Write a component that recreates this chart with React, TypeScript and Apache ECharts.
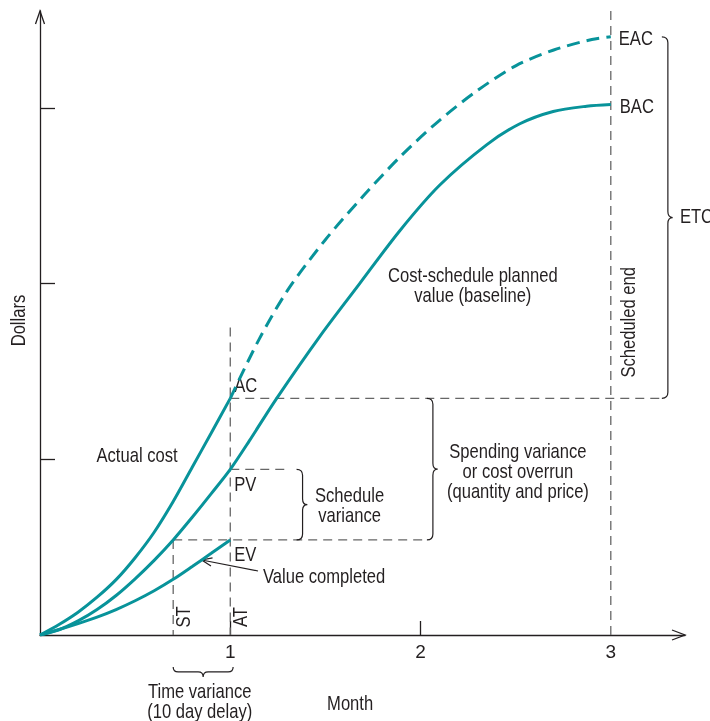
import React, { useEffect, useRef } from "react";
import * as echarts from "echarts";

// ---- data (months on x, dollars on y; y ticks at 1, 2, 3) ----
const plannedMonths = [0, 0.1, 0.2, 0.3, 0.4, 0.5, 0.6, 0.7, 0.8, 0.9, 1, 1.1, 1.244, 1.471, 1.68, 1.89, 2.1, 2.347, 2.522, 2.697, 2.873, 3];
const plannedValues = [0, 0.03, 0.08, 0.145, 0.225, 0.32, 0.425, 0.541, 0.67, 0.805, 0.943, 1.105, 1.347, 1.7, 2.0, 2.3, 2.56, 2.79, 2.91, 2.98, 3.01, 3.02];

const actualMonths = [0, 0.1, 0.2, 0.3, 0.4, 0.5, 0.6, 0.7, 0.8, 0.9, 1];
const actualValues = [0, 0.06, 0.13, 0.215, 0.315, 0.44, 0.585, 0.76, 0.955, 1.15, 1.347];

const forecastMonths = [1, 1.15, 1.3, 1.5, 1.7, 1.9, 2.1, 2.3, 2.5, 2.7, 2.9, 3];
const forecastValues = [1.347, 1.68, 1.96, 2.25, 2.5, 2.73, 2.93, 3.1, 3.24, 3.33, 3.39, 3.405];

const earnedMonths = [0, 0.1, 0.2, 0.3, 0.4, 0.5, 0.6, 0.7, 0.8, 0.9, 1];
const earnedValues = [0, 0.031, 0.065, 0.102, 0.145, 0.195, 0.252, 0.317, 0.39, 0.465, 0.541];

const xTickLabels = [1, 2, 3];
const xTicks = [1, 2];
const yTicks = [1, 2, 3];

// key points
const AT = 1;
const ST = 0.7;
const AC = 1.347;
const PV = 0.943;
const EV = 0.541;
const BAC = 3.02;
const EAC = 3.405;
const END = 3;
const X_MAX = 3.39;
const Y_MAX = 3.552;

const FONT = '"Liberation Sans", Arial, sans-serif';
const TEAL = "#08939a";
const GREY = "#666666";
const INK = "#231f20";
const FS = 20;
const NARROW = 0.83;

export default function App() {
  const ref = useRef<HTMLDivElement>(null);

  useEffect(() => {
    const el = ref.current!;
    const chart = echarts.init(el, null, { renderer: "svg" });
    const zip = (xs: number[], ys: number[]) => xs.map((x, i) => [x, ys[i]]);

    const scheduleBraceX = 1.38;
    const spendingBraceX = 2.065;
    const etcBraceX = 3.3;
    const timeBraceY = -0.21;

    const refLines: number[][][] = [
      [[ST, EV], [ST, 0]],
      [[AT, 1.75], [AT, 0]],
      [[END, Y_MAX], [END, 0]],
      [[AT, AC], [etcBraceX - 0.03, AC]],
      [[AT, PV], [1.3, PV]],
      [[ST, EV], [spendingBraceX - 0.03, EV]],
    ];

    const refSeries = refLines.map((d) => ({
      type: "line",
      data: d,
      symbol: "none",
      silent: true,
      z: 1,
      lineStyle: { color: GREY, width: 1.3, type: [9, 6] },
    }));

    const vBrace = (params: any, api: any) => {
      const x = api.value(0);
      const top = api.coord([x, api.value(1)]);
      const bot = api.coord([x, api.value(2)]);
      const r = 6;
      const xc = top[0];
      const a = top[1];
      const b = bot[1];
      const m = (a + b) / 2;
      const d = `M${xc - r},${a} Q${xc},${a} ${xc},${a + r} L${xc},${m - r} Q${xc},${m} ${xc + r * 0.8},${m} Q${xc},${m} ${xc},${m + r} L${xc},${b - r} Q${xc},${b} ${xc - r},${b}`;
      return { type: "path", shape: { pathData: d }, style: { fill: "none", stroke: INK, lineWidth: 1.2 } };
    };
    const hBrace = (params: any, api: any) => {
      const y = api.value(2);
      const L = api.coord([api.value(0), y]);
      const R = api.coord([api.value(1), y]);
      const r = 5;
      const yy = L[1];
      const l = L[0];
      const rr = R[0];
      const mx = (l + rr) / 2;
      const d = `M${l},${yy - r} Q${l},${yy} ${l + r},${yy} L${mx - r},${yy} Q${mx},${yy} ${mx},${yy + r} Q${mx},${yy} ${mx + r},${yy} L${rr - r},${yy} Q${rr},${yy} ${rr},${yy - r}`;
      return { type: "path", shape: { pathData: d }, style: { fill: "none", stroke: INK, lineWidth: 1.2 } };
    };

    const curve = (name: string, d: number[][], dashed = false) => ({
      type: "line",
      name,
      data: d,
      smooth: 0.3,
      symbol: "none",
      z: 3,
      lineStyle: { color: TEAL, width: 3, type: dashed ? [13, 7] : "solid" },
    });

    const option: any = {
      animation: false,
      textStyle: { fontFamily: FONT, color: INK },
      grid: { left: 40, top: 11, right: 25, bottom: 86, outerBoundsMode: "none", containLabel: false },
      xAxis: {
        type: "value",
        min: 0,
        max: X_MAX,
        splitLine: { show: false },
        axisLine: { show: true, lineStyle: { color: INK, width: 1.3 } },
        axisTick: { show: true, inside: true, length: 14, customValues: xTicks, lineStyle: { color: INK, width: 1.3 } },
        axisLabel: { customValues: xTickLabels, color: INK, fontSize: 19, fontFamily: FONT, margin: 7 },
      },
      yAxis: {
        type: "value",
        min: 0,
        max: Y_MAX,
        splitLine: { show: false },
        axisLine: { show: true, lineStyle: { color: INK, width: 1.3 } },
        axisTick: { show: true, inside: true, length: 15, customValues: yTicks, lineStyle: { color: INK, width: 1.3 } },
        axisLabel: { show: false },
      },
      series: [
        ...refSeries,
        curve("Planned value", zip(plannedMonths, plannedValues)),
        curve("Actual cost", zip(actualMonths, actualValues)),
        curve("Forecast", zip(forecastMonths, forecastValues), true),
        curve("Earned value", zip(earnedMonths, earnedValues)),
        {
          type: "custom",
          renderItem: vBrace,
          silent: true,
          data: [
            [scheduleBraceX, PV, EV],
            [spendingBraceX, AC, EV],
            [etcBraceX, EAC, AC],
          ],
          z: 2,
        },
        {
          type: "custom",
          renderItem: hBrace,
          silent: true,
          data: [[ST, AT + 0.015, timeBraceY]],
          z: 2,
        },
      ],
    };

    chart.setOption(option);

    const P = (x: number, y: number) => chart.convertToPixel({ gridIndex: 0 } as any, [x, y]) as number[];
    const txt = (x: number, y: number, text: string, align = "left", rotation = 0) => ({
      type: "text",
      x,
      y,
      rotation,
      scaleX: NARROW,
      silent: true,
      style: { text, fontSize: FS, fontFamily: FONT, fill: INK, align, verticalAlign: "middle", lineHeight: 20 },
    });
    const g: any[] = [];

    // axis arrows (open chevrons)
    const xe = P(X_MAX, 0);
    g.push({ type: "polyline", silent: true, shape: { points: [[xe[0] - 13, xe[1] - 5], xe, [xe[0] - 13, xe[1] + 5]] }, style: { fill: "none", stroke: INK, lineWidth: 1.3 } });
    const ye = P(0, Y_MAX);
    g.push({ type: "polyline", silent: true, shape: { points: [[ye[0] - 4.5, ye[1] + 13], ye, [ye[0] + 4.5, ye[1] + 13]] }, style: { fill: "none", stroke: INK, lineWidth: 1.3 } });

    // axis titles
    const pMonth = P(1.63, 0);
    g.push(txt(pMonth[0], pMonth[1] + 68, "Month", "center"));
    const pDol = P(0, 1.79);
    g.push(txt(pDol[0] - 22, pDol[1], "Dollars", "center", Math.PI / 2));

    // labels
    const pE = P(END, EAC);
    g.push(txt(pE[0] + 8, pE[1] + 1, "EAC"));
    const pB = P(END, BAC);
    g.push(txt(pB[0] + 9, pB[1] + 1, "BAC"));
    const pEtc = P(etcBraceX, (EAC + AC) / 2);
    g.push(txt(pEtc[0] + 12, pEtc[1] - 2, "ETC"));
    const pSe = P(END, 1.78);
    g.push(txt(pSe[0] + 17, pSe[1], "Scheduled end", "center", Math.PI / 2));
    const pCs = P(2.275, 1.99);
    g.push(txt(pCs[0], pCs[1], "Cost-schedule planned\nvalue (baseline)", "center"));
    const pAC = P(AT, AC);
    g.push(txt(pAC[0] + 4, pAC[1] - 13, "AC"));
    const pPV = P(AT, PV);
    g.push(txt(pPV[0] + 4, pPV[1] + 15, "PV"));
    const pEV = P(AT, EV);
    g.push(txt(pEV[0] + 4, pEV[1] + 14, "EV"));
    const pAct = P(0.51, 1.025);
    g.push(txt(pAct[0], pAct[1], "Actual cost", "center"));
    const pVc = P(1.172, 0.336);
    g.push(txt(pVc[0], pVc[1], "Value completed"));
    const pST = P(ST, 0);
    g.push(txt(pST[0] + 10, pST[1] - 18, "ST", "center", Math.PI / 2));
    const pAT = P(AT, 0);
    g.push(txt(pAT[0] + 10, pAT[1] - 18, "AT", "center", Math.PI / 2));
    const pSch = P(scheduleBraceX, (PV + EV) / 2);
    g.push(txt(pSch[0] + 47, pSch[1], "Schedule\nvariance", "center"));
    const pSp = P(spendingBraceX, (AC + EV) / 2);
    g.push(txt(pSp[0] + 85, pSp[1] + 2, "Spending variance\nor cost overrun\n(quantity and price)", "center"));
    const pTv = P((ST + AT) / 2, timeBraceY);
    g.push(txt(pTv[0] - 2, pTv[1] + 29, "Time variance\n(10 day delay)", "center"));

    // "Value completed" pointer arrow
    const tip = P(0.85, 0.427);
    const tail = [pVc[0] - 5, pVc[1] - 5];
    const ang = Math.atan2(tail[1] - tip[1], tail[0] - tip[0]);
    const hl = 11;
    const spread = 0.38;
    g.push({ type: "line", silent: true, shape: { x1: tail[0], y1: tail[1], x2: tip[0], y2: tip[1] }, style: { stroke: INK, lineWidth: 1.2 } });
    g.push({
      type: "polyline",
      silent: true,
      shape: {
        points: [
          [tip[0] + hl * Math.cos(ang - spread), tip[1] + hl * Math.sin(ang - spread)],
          tip,
          [tip[0] + hl * Math.cos(ang + spread), tip[1] + hl * Math.sin(ang + spread)],
        ],
      },
      style: { fill: "none", stroke: INK, lineWidth: 1.2 },
    });

    chart.setOption({ graphic: g });

    return () => chart.dispose();
  }, []);

  return <div ref={ref} style={{ position: "fixed", left: 0, top: 0, width: 710, height: 721 }} />;
}
